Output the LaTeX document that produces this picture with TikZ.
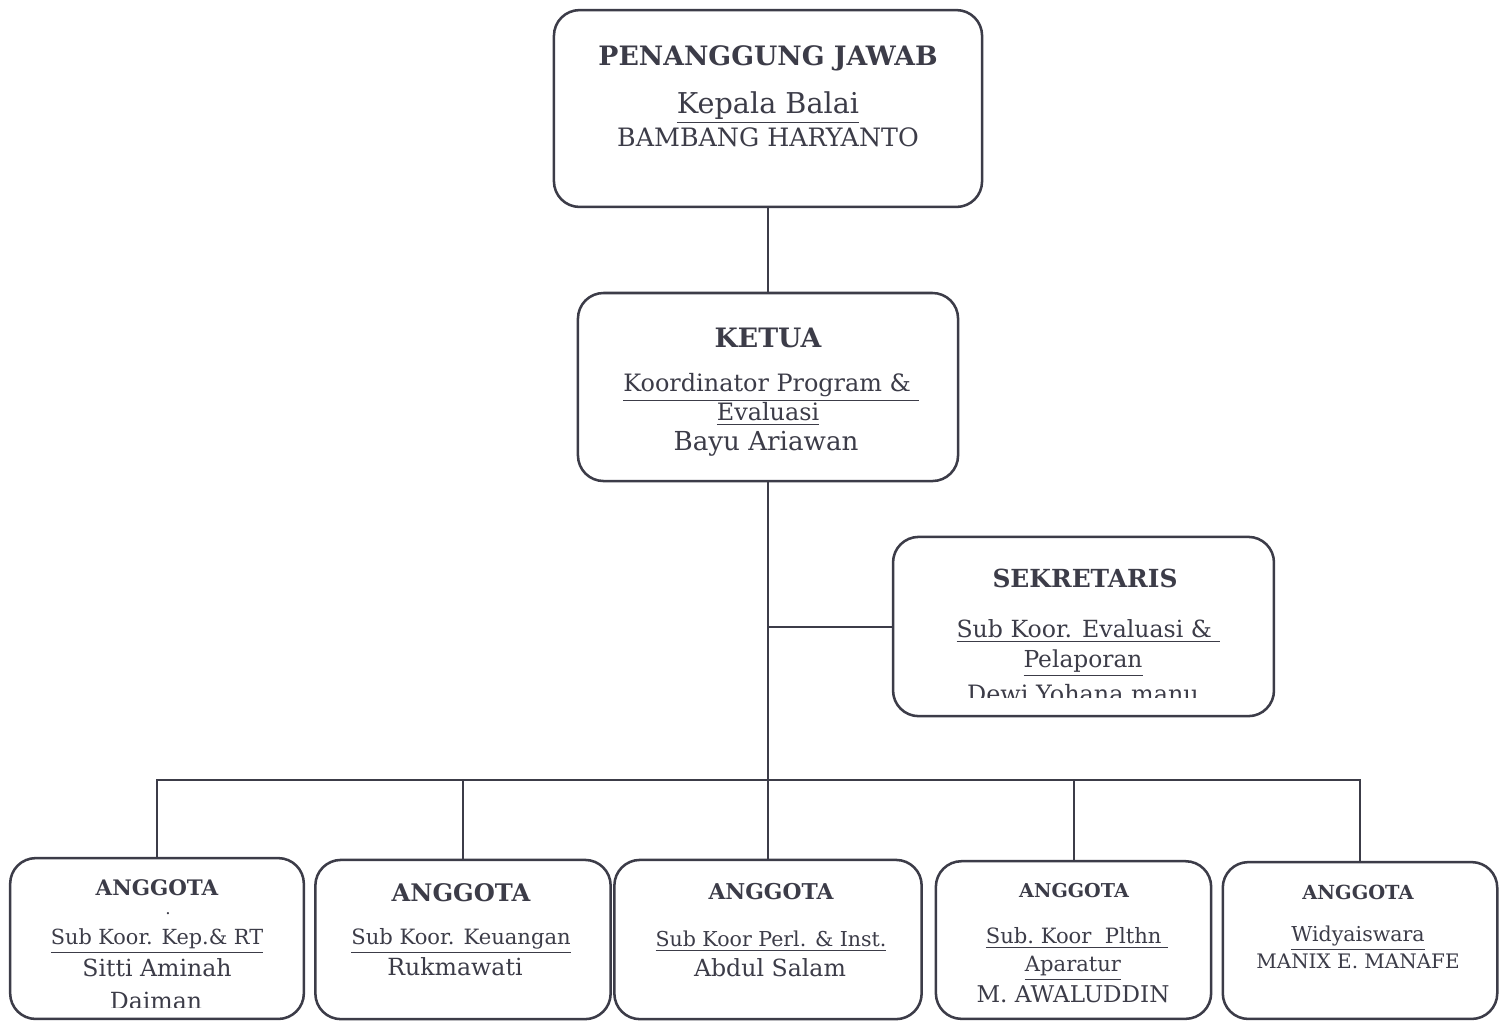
\documentclass[tikz,border=0pt]{standalone}
\usepackage{fontspec}
\setmainfont{DejaVu Serif}

\definecolor{ink}{RGB}{60,60,72}
\tikzset{
  unit/.style={draw=ink, line width=0.9pt, rounded corners=0.32cm, inner sep=0pt},
  head/.style={text=ink, anchor=base, inner sep=0pt, font=\bfseries\fontsize{9.5}{12}\selectfont},
  post/.style={text=ink, anchor=base, inner sep=0pt, font=\fontsize{8.5}{11}\selectfont},
  who/.style={text=ink, anchor=base, inner sep=0pt, font=\fontsize{8.5}{11}\selectfont},
  link/.style={draw=ink, line width=0.7pt}
}

\begin{document}
\begin{tikzpicture}[x=0.0125cm, y=-0.0125cm]
\useasboundingbox[fill=white] (0,0) rectangle (1504,1022);

% boxes
\node[unit, minimum width=5.35cm, minimum height=2.46cm] (pj) at (768,108.5) {};
\node[unit, minimum width=4.75cm, minimum height=2.35cm] (ketua) at (768,387) {};
\node[unit, minimum width=4.76cm, minimum height=2.24cm] (sekr) at (1083.5,626.5) {};
\node[unit, minimum width=3.67cm, minimum height=2.01cm] (agt1) at (157,938.5) {};
\node[unit, minimum width=3.69cm, minimum height=1.99cm] (agt2) at (463,939.5) {};
\node[unit, minimum width=3.84cm, minimum height=1.99cm] (agt3) at (768,939.5) {};
\node[unit, minimum width=3.44cm, minimum height=1.97cm] (agt4) at (1073.5,940) {};
\node[unit, minimum width=3.43cm, minimum height=1.96cm] (agt5) at (1360,940.5) {};
\coordinate (bus) at (768,780);

% lines
\draw[link] (pj.south) -- (ketua.north);
\draw[link] (ketua.south) -- (agt3.north);
\draw[link] (sekr.west) -- (sekr.west -| ketua.south);
\draw[link] (agt1.north) -- (agt1.north |- bus) -- (agt5.north |- bus) -- (agt5.north);
\draw[link] (agt2.north) -- (agt2.north |- bus);
\draw[link] (agt4.north) -- (agt4.north |- bus);

% penanggung jawab
\node[head] (pjH) at (768,65) {PENANGGUNG JAWAB};
\node[post, font=\fontsize{10.2}{12}\selectfont] (pjP) at (768,113) {\underline{Kepala Balai}};
\node[who, font=\fontsize{9}{11}\selectfont] (pjN) at (768,146) {BAMBANG HARYANTO};

% ketua
\node[head] (ketuaH) at (768,347) {KETUA};
\node[post] (ketuaP1) at (771,391) {\underline{Koordinator Program \&\ }};
\node[post] (ketuaP2) at (768,420) {\underline{Evaluasi}};
\node[who, font=\fontsize{9.3}{12}\selectfont] (ketuaN) at (766,450) {Bayu Ariawan};

% sekretaris
\node[head, font=\bfseries\fontsize{8.85}{12}\selectfont] (sekrH) at (1085,587) {SEKRETARIS};
\node[post, font=\fontsize{8.4}{12}\selectfont] (sekrP1) at (1088,637) {\underline{Sub Koor. Evaluasi \&\ }};
\node[post, font=\fontsize{8.3}{12}\selectfont] (sekrP2) at (1083,667) {\underline{Pelaporan}};
\begin{scope}
  \clip (900,600) rectangle (1270,697);
  \node[who, font=\fontsize{8.5}{12}\selectfont] (sekrN) at (1083,702) {Dewi Yohana manu};
\end{scope}

% anggota 1
\node[head, font=\bfseries\fontsize{7.6}{10}\selectfont] (agt1H) at (157,895) {ANGGOTA};
\node[who, font=\fontsize{6}{7}\selectfont] (agt1D) at (168,914) {.};
\node[post, font=\fontsize{7.4}{10}\selectfont] (agt1P) at (157,944) {\underline{Sub Koor. Kep.\& RT}};
\node[who, font=\fontsize{8.4}{11}\selectfont] (agt1N) at (157,976) {Sitti Aminah};
\begin{scope}
  \clip (20,985) rectangle (290,1007);
  \node[who, font=\fontsize{8.4}{11}\selectfont] (agt1M) at (156,1009) {Daiman};
\end{scope}

% anggota 2
\node[head, font=\bfseries\fontsize{8.6}{11}\selectfont] (agt2H) at (461,901) {ANGGOTA};
\node[post, font=\fontsize{7.5}{10}\selectfont] (agt2P) at (461,944) {\underline{Sub Koor. Keuangan}};
\node[who, font=\fontsize{8.4}{11}\selectfont] (agt2N) at (455,975) {Rukmawati};

% anggota 3
\node[head, font=\bfseries\fontsize{7.75}{10}\selectfont] (agt3H) at (771,899) {ANGGOTA};
\node[post, font=\fontsize{7.3}{10}\selectfont] (agt3P) at (771,946) {\underline{Sub Koor Perl. \& Inst.}};
\node[who, font=\fontsize{8.4}{11}\selectfont] (agt3N) at (770,976) {Abdul Salam};

% anggota 4
\node[head, font=\bfseries\fontsize{6.8}{9}\selectfont] (agt4H) at (1074,897) {ANGGOTA};
\node[post, font=\fontsize{7.5}{10}\selectfont] (agt4P1) at (1077,943) {\underline{Sub.\ Koor\ \ Plthn\ }};
\node[post, font=\fontsize{7.5}{10}\selectfont] (agt4P2) at (1073,971) {\underline{Aparatur}};
\node[who, font=\fontsize{8.2}{11}\selectfont] (agt4N) at (1073,1002) {M. AWALUDDIN};

% anggota 5
\node[head, font=\bfseries\fontsize{6.9}{9}\selectfont] (agt5H) at (1358,899) {ANGGOTA};
\node[post, font=\fontsize{7.3}{10}\selectfont] (agt5P) at (1358,941) {\underline{Widyaiswara}};
\node[who, font=\fontsize{7.1}{10}\selectfont] (agt5N) at (1358,968) {MANIX E. MANAFE};

\end{tikzpicture}
\end{document}
